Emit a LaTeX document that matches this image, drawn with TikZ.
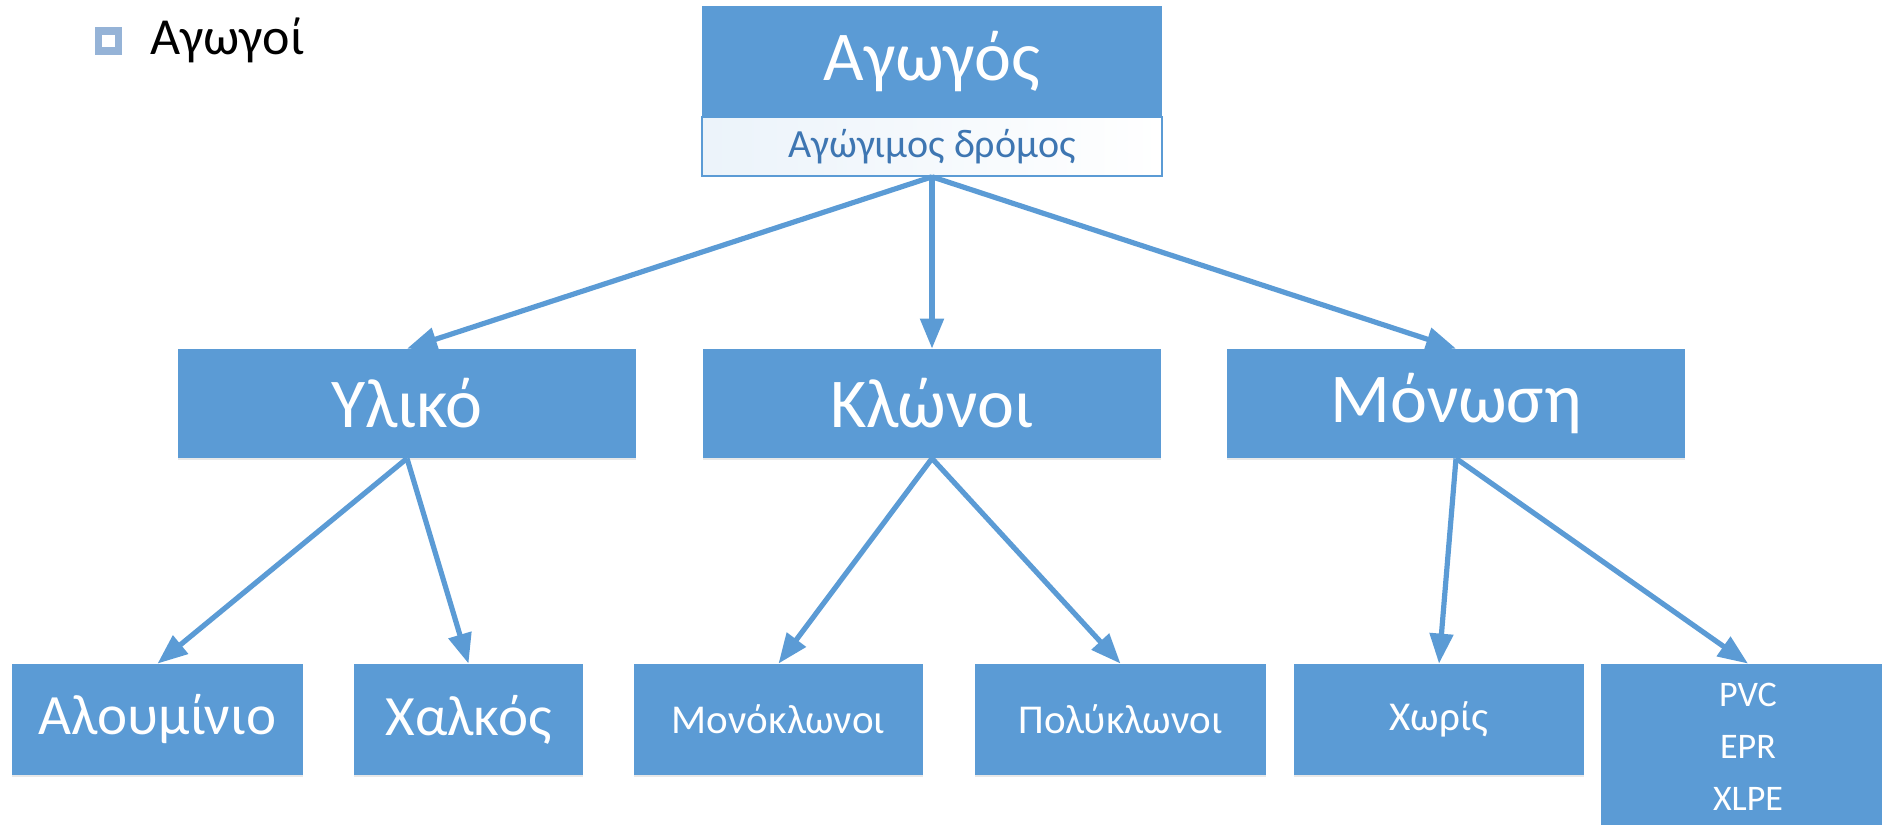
\documentclass[tikz,border=0pt]{standalone}
\usepackage{fontspec}
\setmainfont{Carlito}
\usetikzlibrary{arrows.meta,shadows}

\definecolor{boxblue}{RGB}{91,155,213}
\definecolor{subtext}{RGB}{62,118,178}
\definecolor{bulletblue}{RGB}{149,179,215}

\tikzset{
  box/.style={rectangle, fill=boxblue, text=white, inner sep=0pt,
    drop shadow={shadow xshift=0pt, shadow yshift=-1.2pt, opacity=0.18}},
  subbox/.style={rectangle, draw=boxblue, line width=0.8pt, inner sep=0pt,
    left color=boxblue!12!white, right color=white, text=subtext},
  link/.style={-{Triangle[length=15pt,width=11.5pt,fill=boxblue]}, draw=boxblue, line width=2.6pt},
  bigfont/.style={font=\fontsize{35}{40}\selectfont},
  midfont/.style={font=\fontsize{28.5}{32}\selectfont},
  smallfont/.style={font=\fontsize{20.5}{24}\selectfont},
}

\begin{document}
\begin{tikzpicture}[x=0.5pt,y=-0.5pt]
    \useasboundingbox (0,0) rectangle (1882,824);
    % bullet and title
    \node[rectangle, draw=bulletblue, line width=3.8pt, fill=white, minimum size=10pt, inner sep=0pt] (bul) at (108.5,41) {};
    \node[anchor=base west, inner sep=0pt, font=\fontsize{26}{30}\selectfont] (title) at (150,55) {Αγωγοί};
    % top
    \node[box, bigfont, minimum width=230pt, minimum height=55.5pt] (top) at (932,61.5) {Αγωγός};
    \node[subbox, font=\fontsize{20}{24}\selectfont, minimum width=230pt, minimum height=29.5pt] (sub) at (932,146.5) {Αγώγιμος δρόμος};
    % second row
    \node[box, bigfont, minimum width=229pt, minimum height=54.5pt] (ylk) at (407,403.5) {Υλικό};
    \node[box, bigfont, minimum width=229pt, minimum height=54.5pt] (klw) at (932,403.5) {Κλώνοι};
    \node[box, bigfont, minimum width=229pt, minimum height=54.5pt] (mon) at (1456,403.5) {Μόνωση};
    % third row
    \node[box, midfont, minimum width=145.5pt, minimum height=55.5pt] (alu) at (157.5,719.5) {Αλουμίνιο};
    \node[box, midfont, minimum width=114.5pt, minimum height=55.5pt] (cu) at (468.5,719.5) {Χαλκός};
    \node[box, smallfont, minimum width=144.5pt, minimum height=55.5pt] (mono) at (778.5,719.5) {Μονόκλωνοι};
    \node[box, smallfont, minimum width=145.5pt, minimum height=55.5pt] (poly) at (1120.5,719.5) {Πολύκλωνοι};
    \node[box, smallfont, minimum width=145pt, minimum height=55.5pt] (none) at (1439,719.5) {Χωρίς};
    \node[box, align=center, font=\fontsize{18}{26}\selectfont, minimum width=147pt, minimum height=83pt] (ins) at (1748,747) {PVC\\EPR\\XLPE};
    % connections
    \path (sub.south) edge [link] (ylk.north);
    \path (sub.south) edge [link] (klw.north);
    \path (sub.south) edge [link] (mon.north);
    \path (ylk.south) edge [link] (alu.north);
    \path (ylk.south) edge [link] (cu.north);
    \path (klw.south) edge [link] (mono.north);
    \path (klw.south) edge [link] (poly.north);
    \path (mon.south) edge [link] (none.north);
    \path (mon.south) edge [link] (ins.north);
\end{tikzpicture}
\end{document}
